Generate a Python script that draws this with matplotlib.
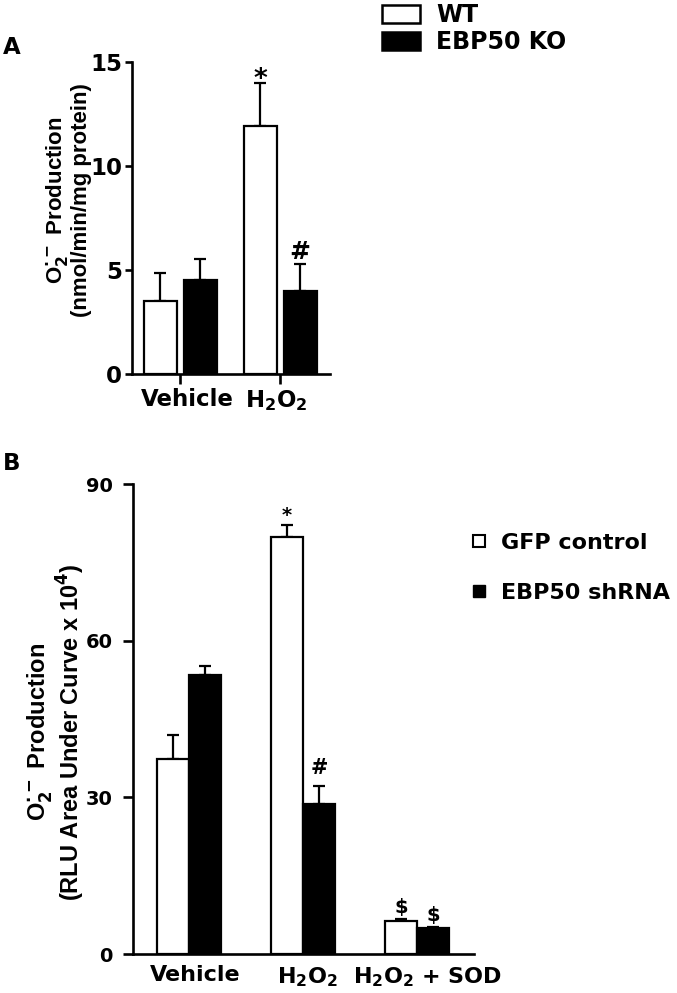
import matplotlib
matplotlib.use("Agg")
import matplotlib.pyplot as plt
import matplotlib.transforms as mtransforms
import numpy as np
from matplotlib.patches import Patch
from matplotlib.lines import Line2D

plt.rcParams["font.family"] = ["DejaVu Sans"]
plt.rcParams["font.weight"] = "bold"
plt.rcParams["mathtext.fontset"] = "dejavusans"
plt.rcParams["mathtext.default"] = "bf"

# --- Panel A data -----------------------------------------------------------
groups_a = ["Vehicle", "H$_2$O$_2$"]
wt_a = [3.5, 11.9]
wt_a_err = [1.35, 2.1]
ko_a = [4.5, 4.0]
ko_a_err = [1.05, 1.3]
marks_a_wt = ["", "*"]
marks_a_ko = ["", "#"]

# --- Panel B data -----------------------------------------------------------
groups_b = ["Vehicle", "H$_2$O$_2$", "H$_2$O$_2$ + SOD"]
gfp_b = [37.4, 79.9, 6.4]
gfp_b_err = [4.6, 2.2, 0.35]
sh_b = [53.4, 28.8, 4.9]
sh_b_err = [1.7, 3.4, 0.25]
marks_b_gfp = ["", "*", "$"]
marks_b_sh = ["", "#", "$"]

W, H = 677, 993
fig = plt.figure(figsize=(W / 100, H / 100), dpi=100)

LABEL_FONT = ["Liberation Sans", "DejaVu Sans"]

# baseline offsets (points) of the significance marks above the error caps
MARK_DY_A = {"*": -3.0, "#": 3.5}
MARK_DY_B = {"*": 3.0, "#": 8.5, "$": 4.5}


def frac(left, top, right, bottom):
    return [left / W, 1 - bottom / H, (right - left) / W, (bottom - top) / H]


def style_axes(ax):
    for side in ("top", "right"):
        ax.spines[side].set_visible(False)
    for side in ("left", "bottom"):
        ax.spines[side].set_linewidth(1.9)
    ax.tick_params(axis="both", width=1.9)


def nudge_xlabels(ax, shifts_px):
    # the category labels in the source sit a few pixels off their ticks
    for lab, dx in zip(ax.get_xticklabels(), shifts_px):
        lab.set_transform(lab.get_transform()
                          + mtransforms.ScaledTranslation(dx / 100, 0, fig.dpi_scale_trans))


def draw_pair(ax, x, vals, errs, marks, color, width, sizes, dys):
    ax.bar(x, vals, width=width, color=color, edgecolor="black", linewidth=1.6, zorder=2)
    ax.errorbar(x, vals, yerr=[np.zeros(len(vals)), errs], fmt="none", ecolor="black",
                elinewidth=1.6, capsize=4, capthick=1.6, zorder=1)
    for xi, v, e, m in zip(x, vals, errs, marks):
        if m:
            ax.annotate(m, (xi, v + e), xytext=(0, dys[m]), textcoords="offset points",
                        ha="center", va="baseline", fontsize=sizes[m], fontweight="bold")


# --- Panel A ----------------------------------------------------------------
ax_a = fig.add_axes(frac(132, 62, 330, 374))
xa = np.arange(len(groups_a))
sizes_a = {"*": 19, "#": 18}
draw_pair(ax_a, xa - 0.2, wt_a, wt_a_err, marks_a_wt, "white", 0.33, sizes_a, MARK_DY_A)
draw_pair(ax_a, xa + 0.2, ko_a, ko_a_err, marks_a_ko, "black", 0.33, sizes_a, MARK_DY_A)
ax_a.set_xlim(-0.48, 1.5)
ax_a.set_ylim(0, 15)
ax_a.set_yticks([0, 5, 10, 15])
ax_a.set_xticks(xa)
ax_a.set_xticklabels(groups_a)
style_axes(ax_a)
ax_a.tick_params(axis="x", length=7, pad=3, labelsize=16.5)
ax_a.tick_params(axis="y", length=5, pad=2, labelsize=16.5)
nudge_xlabels(ax_a, [7, -4])

fig.text(68 / W, 1 - 200 / H,
         "O$_2^{\\bullet-}$ Production\n(nmol/min/mg protein)",
         rotation=90, ha="center", va="center", multialignment="center",
         fontsize=16, fontweight="bold", linespacing=1.05, family=LABEL_FONT)
fig.text(3 / W, 1 - 47 / H, "A", fontsize=16.5, fontweight="bold", va="center", ha="left")

fig.legend(handles=[Patch(facecolor="white", edgecolor="black", linewidth=1.8, label="WT"),
                    Patch(facecolor="black", edgecolor="black", linewidth=1.8, label="EBP50 KO")],
           loc="upper left", bbox_to_anchor=(382 / W, 1 - 3 / H), frameon=False,
           fontsize=17, handlelength=1.6, handleheight=0.8, handletextpad=0.7,
           labelspacing=0.12, borderpad=0, borderaxespad=0)

# --- Panel B ----------------------------------------------------------------
ax_b = fig.add_axes(frac(133, 484, 474, 954))
xb = np.arange(len(groups_b))
sizes_b = {"*": 14, "#": 15, "$": 14}
draw_pair(ax_b, xb - 0.14, gfp_b, gfp_b_err, marks_b_gfp, "white", 0.28, sizes_b, MARK_DY_B)
draw_pair(ax_b, xb + 0.14, sh_b, sh_b_err, marks_b_sh, "black", 0.28, sizes_b, MARK_DY_B)
ax_b.set_xlim(-0.49, 2.5)
ax_b.set_ylim(0, 90)
ax_b.set_yticks([0, 30, 60, 90])
ax_b.set_xticks(xb)
ax_b.set_xticklabels(groups_b)
style_axes(ax_b)
ax_b.tick_params(axis="x", length=0, pad=8, labelsize=16)
ax_b.tick_params(axis="y", length=7, pad=7.5, labelsize=14)
nudge_xlabels(ax_b, [6, 5, 11])

fig.text(56 / W, 1 - 732 / H,
         "O$_2^{\\bullet-}$ Production\n(RLU Area Under Curve x 10$^4$)",
         rotation=90, ha="center", va="center", multialignment="center",
         fontsize=17, fontweight="bold", linespacing=1.05, family=LABEL_FONT)
fig.text(3 / W, 1 - 464 / H, "B", fontsize=16.5, fontweight="bold", va="center", ha="left")

fig.legend(handles=[Line2D([], [], linestyle="none", marker="s", markersize=9,
                           markerfacecolor="white", markeredgecolor="black",
                           markeredgewidth=1.5, label="GFP control"),
                    Line2D([], [], linestyle="none", marker="s", markersize=9,
                           markerfacecolor="black", markeredgecolor="black",
                           label="EBP50 shRNA")],
           loc="upper left", bbox_to_anchor=(468 / W, 1 - 533 / H), frameon=False,
           fontsize=16, handlelength=1.0, handletextpad=0.5,
           labelspacing=1.34, borderpad=0, borderaxespad=0)

fig.savefig("out.png", dpi=100)
